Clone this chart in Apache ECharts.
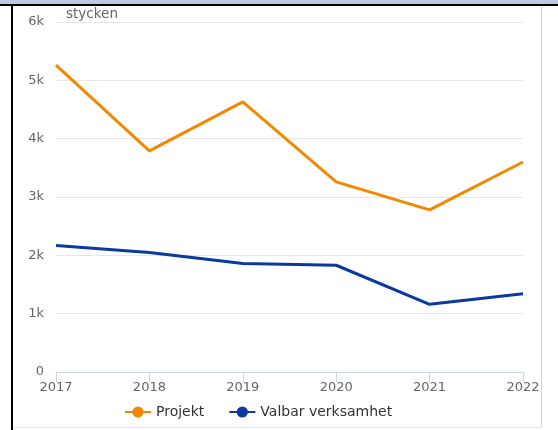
<!DOCTYPE html>
<html>
<head>
    <meta charset="utf-8" />
    <title>stycken</title>
    <style>
        html, body { margin: 0; padding: 0; background: #fff; }
        #divChart { position: absolute; left: 0; top: 0; width: 558px; height: 430px; }
        .edge { position: absolute; pointer-events: none; }
    </style>
</head>
<body>

    <div id="divChart"></div>
    <!-- page frame around the chart -->
    <div class="edge" style="left:0;top:0;width:558px;height:4px;background:#b8cce4;"></div>
    <div class="edge" style="left:0;top:4px;width:558px;height:2px;background:#000;"></div>
    <div class="edge" style="left:11px;top:6px;width:2px;height:424px;background:#000;"></div>
    <div class="edge" style="left:541px;top:6px;width:1px;height:421px;background:#d4d4d4;"></div>
    <div class="edge" style="left:13px;top:427px;width:528px;height:1px;background:#e4e4e4;"></div>

    <script src="https://cdn.jsdelivr.net/npm/echarts@6/dist/echarts.min.js"></script>
    <script>
        var years = ['2017', '2018', '2019', '2020', '2021', '2022'];
        var projekt = [5260, 3790, 4630, 3260, 2780, 3600];
        var valbar = [2170, 2050, 1860, 1830, 1160, 1340];
        var yMax = 6000;
        var yStep = 1000;

        var myChart = echarts.init(document.getElementById('divChart'));

        var option = {
            textStyle: { fontFamily: 'DejaVu Sans' },
            animation: false,
            grid: { left: 56, right: 35, top: 22, bottom: 58 },
            color: ['#f18a00', '#0b3a9e'],
            legend: {
                left: 119,
                top: 400,
                itemWidth: 26,
                itemHeight: 14,
                itemGap: 24,
                textStyle: { color: '#333', fontSize: 14 },
                data: ['Projekt', 'Valbar verksamhet']
            },
            xAxis: {
                type: 'category',
                boundaryGap: false,
                data: years,
                axisLine: { lineStyle: { color: '#ccd6eb', width: 1 } },
                axisTick: { length: 10, lineStyle: { color: '#ccd6eb' } },
                axisLabel: { color: '#666', fontSize: 13, margin: 9 }
            },
            yAxis: {
                type: 'value',
                min: 0,
                max: yMax,
                interval: yStep,
                name: 'stycken',
                nameLocation: 'end',
                nameGap: 8,
                nameTextStyle: { color: '#666', fontSize: 13.5, align: 'left', verticalAlign: 'middle', padding: [0, 0, 0, 10] },
                axisLine: { show: false },
                axisTick: { show: false },
                splitLine: { lineStyle: { color: '#e6e6e6' } },
                axisLabel: {
                    color: '#666',
                    fontSize: 13,
                    margin: 12,
                    formatter: function (v) { return v === 0 ? '0' : (v / 1000) + 'k'; }
                }
            },
            series: [
                {
                    name: 'Projekt',
                    type: 'line',
                    symbol: 'circle',
                    showSymbol: false,
                    lineStyle: { width: 3 },
                    data: projekt
                },
                {
                    name: 'Valbar verksamhet',
                    type: 'line',
                    symbol: 'circle',
                    showSymbol: false,
                    lineStyle: { width: 3 },
                    data: valbar
                }
            ]
        };
        myChart.setOption(option);
    </script>
</body>
</html>
